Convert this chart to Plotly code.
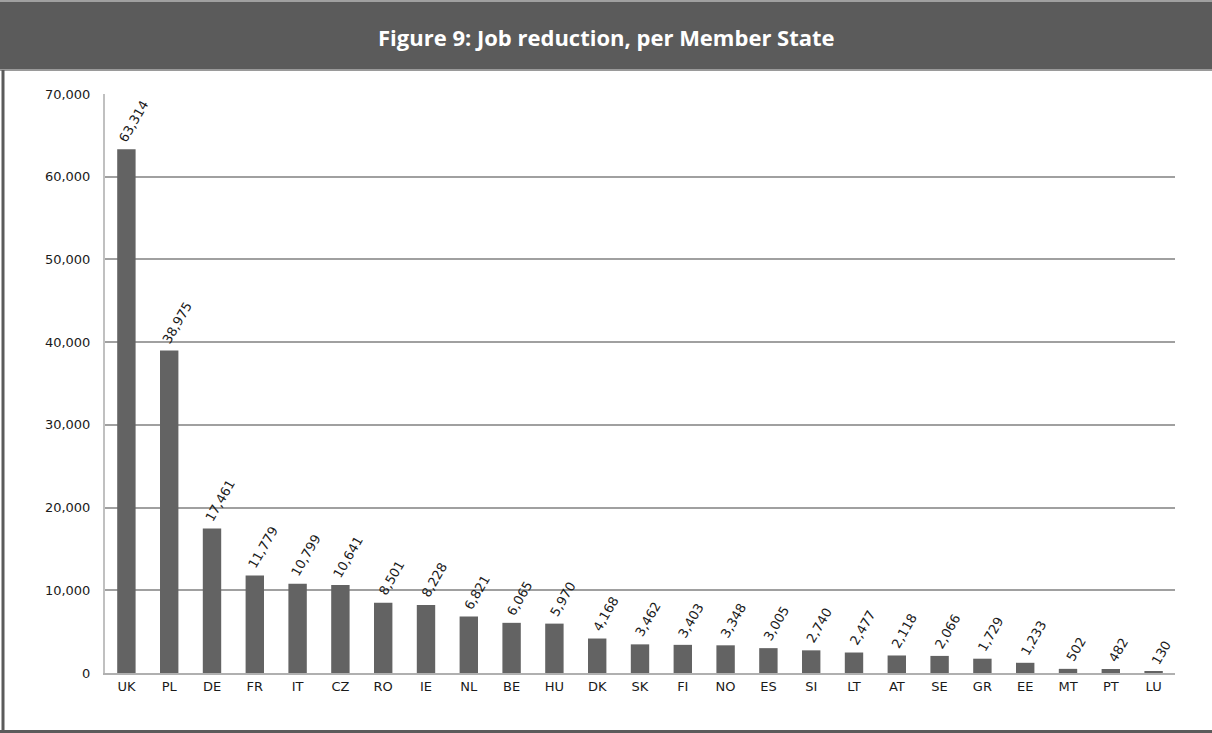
import plotly.graph_objects as go

countries = ["UK", "PL", "DE", "FR", "IT", "CZ", "RO", "IE", "NL", "BE", "HU", "DK", "SK",
             "FI", "NO", "ES", "SI", "LT", "AT", "SE", "GR", "EE", "MT", "PT", "LU"]
job_reduction = [63314, 38975, 17461, 11779, 10799, 10641, 8501, 8228, 6821, 6065, 5970, 4168, 3462,
                 3403, 3348, 3005, 2740, 2477, 2118, 2066, 1729, 1233, 502, 482, 130]
y_ticks = [0, 10000, 20000, 30000, 40000, 50000, 60000, 70000]
title_text = "Figure 9: Job reduction, per Member State"

W, H = 1212, 733
L, R, T, B = 105, 37, 94, 60
pw, ph = W - L - R, H - T - B

def px(x):
    return (x - L) / pw

def py(y):
    return (H - B - y) / ph

FONT = "DejaVu Sans"

fig = go.Figure()
fig.add_trace(go.Bar(
    x=countries, y=job_reduction,
    marker=dict(color="#636363", line=dict(width=0)),
    width=0.43,
    cliponaxis=False,
))

label_annotations = [
    dict(x=c, y=v, xref="x", yref="y", text=f"{v:,}", textangle=-60,
         xanchor="center", yanchor="bottom", xshift=8, yshift=2, showarrow=False,
         font=dict(family=FONT, size=13, color="#1a1a1a"))
    for c, v in zip(countries, job_reduction)
]

shapes = [
    # title bar
    dict(type="rect", xref="paper", yref="paper", x0=px(0), x1=px(W), y0=py(70), y1=py(0),
         fillcolor="#5b5b5b", line=dict(width=0), layer="below"),
    dict(type="line", xref="paper", yref="paper", x0=px(0), x1=px(W), y0=py(70), y1=py(70),
         line=dict(color="#9a9a9a", width=2)),
    dict(type="line", xref="paper", yref="paper", x0=px(0), x1=px(W), y0=py(1), y1=py(1),
         line=dict(color="#a0a0a0", width=2)),
    # outer frame left and bottom
    dict(type="line", xref="paper", yref="paper", x0=px(3), x1=px(3), y0=py(70), y1=py(732),
         line=dict(color="#5b5b5b", width=3)),
    dict(type="line", xref="paper", yref="paper", x0=px(0), x1=px(W), y0=py(731.5), y1=py(731.5),
         line=dict(color="#5b5b5b", width=3)),
]

fig.update_layout(
    width=W, height=H, autosize=False,
    margin=dict(l=L, r=R, t=T, b=B, pad=0),
    paper_bgcolor="white", plot_bgcolor="white",
    showlegend=False,
    shapes=shapes,
    annotations=[dict(text="<b>" + title_text + "</b>", xref="paper", yref="paper",
                      x=0.5 * (px(0) + px(W)), y=py(37), xanchor="center", yanchor="middle",
                      showarrow=False, font=dict(family="Open Sans", size=22, color="white"))]
                + label_annotations,
    xaxis=dict(showgrid=False, showline=True, linecolor="#b0b0b0", linewidth=2,
               ticks="", tickfont=dict(family=FONT, size=13, color="#1a1a1a"),
               range=[-0.5, len(countries) - 0.5]),
    yaxis=dict(range=[0, 70000], tickvals=y_ticks, tickformat=",",
               showgrid=True, gridcolor="#a0a0a0", gridwidth=1.5,
               showline=True, linecolor="#c0c0c0", linewidth=2, zeroline=False,
               ticks="", ticklabelstandoff=10,
               tickfont=dict(family=FONT, size=13, color="#1a1a1a")),
)

fig.write_html("out.html", post_script="document.body.style.margin='0px';",
               config={"displayModeBar": False})
